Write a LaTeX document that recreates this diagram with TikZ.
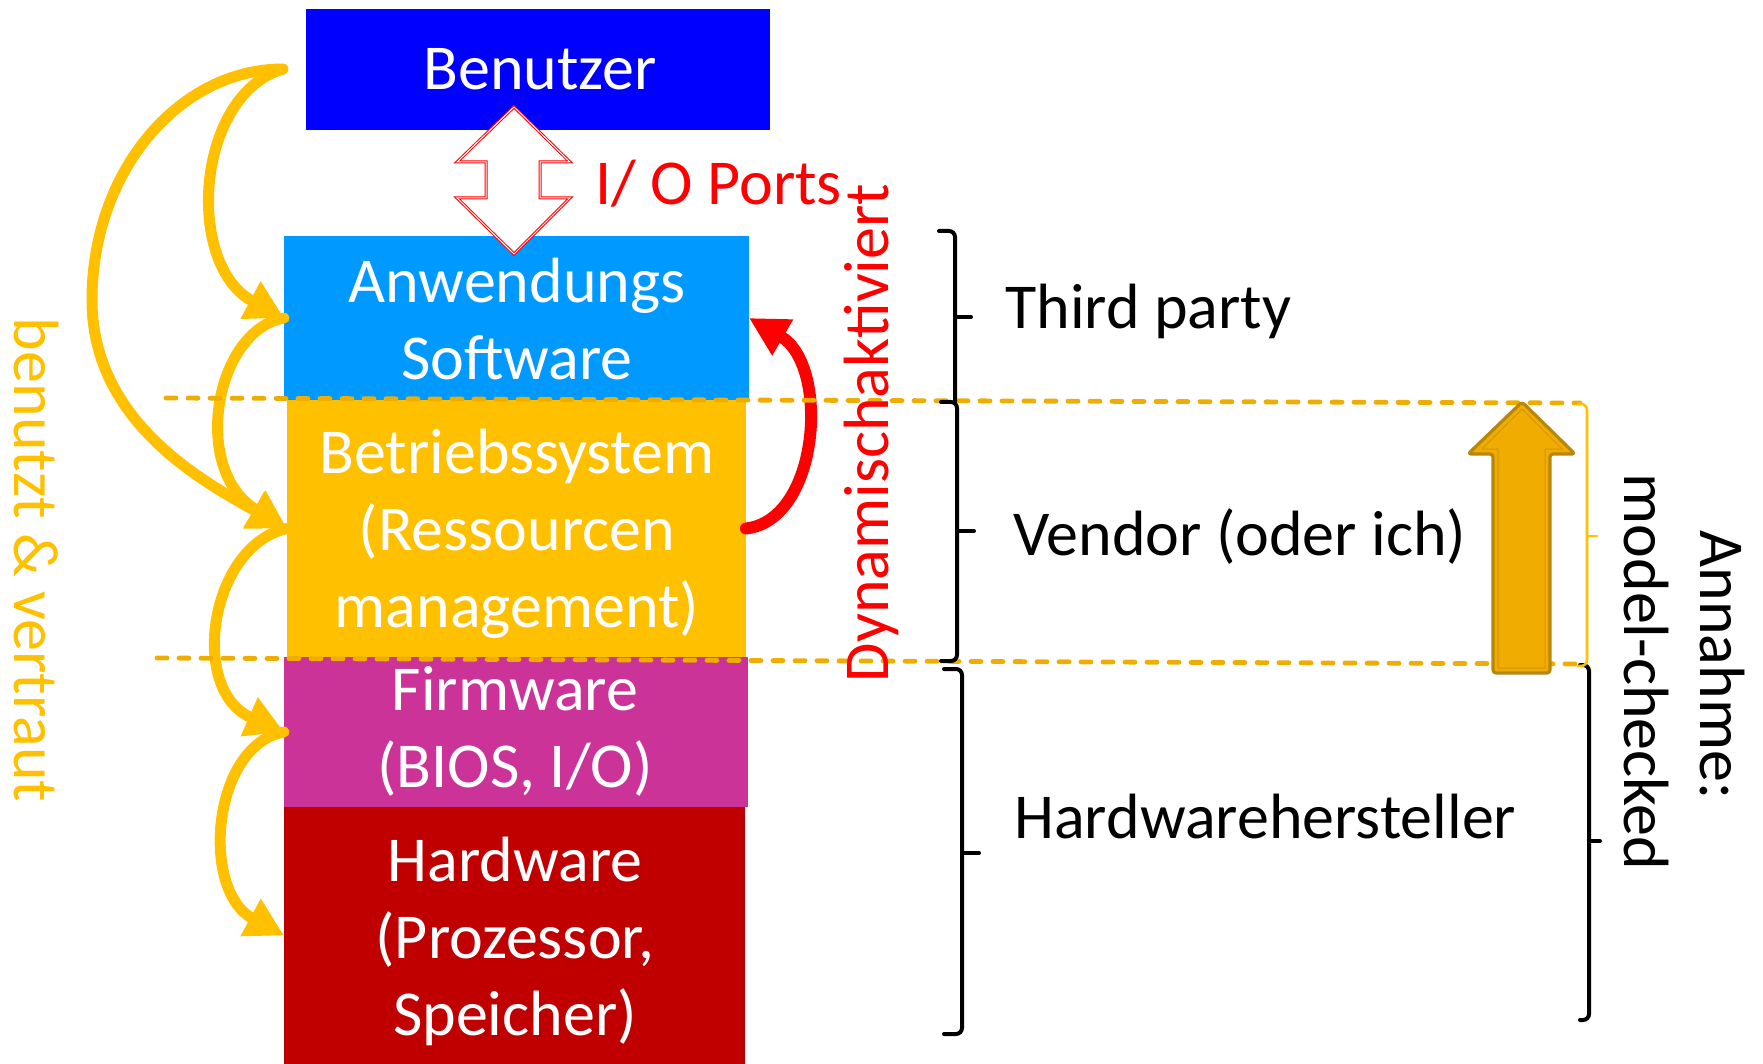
\documentclass[tikz,border=0pt]{standalone}
\usepackage{fontspec}
\setmainfont{Carlito}
\usetikzlibrary{arrows.meta}
\definecolor{benblue}{HTML}{0000FF}
\definecolor{anwblue}{HTML}{0099FF}
\definecolor{osyellow}{HTML}{FFC000}
\definecolor{fwpink}{HTML}{CC3399}
\definecolor{hwred}{HTML}{C00000}
\definecolor{dashcol}{HTML}{EEAD00}
\definecolor{upfill}{HTML}{F0AC00}
\definecolor{upedge}{HTML}{B8860B}
\definecolor{upinner}{HTML}{D09800}
\begin{document}
\begin{tikzpicture}[x=0.5pt,y=-0.5pt,
  layerbox/.style={rectangle,inner sep=0pt,outer sep=0pt,draw=none},
  boxtext/.style={text=white,inner sep=0pt,align=center,font=\fontsize{32pt}{38.5pt}\selectfont},
  lbl/.style={inner sep=0pt,font=\fontsize{32pt}{38.5pt}\selectfont},
  uses/.style={draw=osyellow,line width=5.5pt,line cap=round,-{Triangle[length=19pt,width=20pt]}},
  boundary/.style={draw=dashcol,line width=2.4pt,line cap=round,dash pattern=on 5pt off 6pt},
  brk/.style={line width=2pt,rounded corners=3pt,line cap=round}]
\useasboundingbox (0,0) rectangle (1763,1064);

% layer stack
\node[layerbox,fill=benblue,minimum width=232pt,minimum height=60.5pt] (ben) at (538,69.5) {};
\node[layerbox,fill=anwblue,minimum width=232.5pt,minimum height=82pt] (anw) at (516.5,318) {};
\node[layerbox,fill=osyellow,minimum width=229.5pt,minimum height=128.5pt] (bet) at (516.5,528.5) {};
\node[layerbox,fill=fwpink,minimum width=232pt,minimum height=75pt] (fw) at (516,732) {};
\node[layerbox,fill=hwred,minimum width=230.5pt,minimum height=128.5pt] (hw) at (514.5,935.5) {};

% I/O double arrow between user and application
\filldraw[fill=white,draw=red,double=white,line width=0.5pt,double distance=0.5pt]
  (514,107) -- (570,162) -- (540,162) -- (540,198) -- (570,198) -- (514,254)
  -- (457,198) -- (486,198) -- (486,162) -- (457,162) -- cycle;

% "uses & trusts" arrows
\coordinate (src) at (283,69);
\draw[uses] (src) .. controls (195,95) and (185,265) .. (anw.west);
\draw[uses] (src) .. controls (180,69) and (92,170) .. (92,300)
  .. controls (92,420) and (200,480) .. (bet.west);
\draw[uses] (anw.west) .. controls (215,330) and (190,470) .. (bet.west);
\draw[uses] (bet.west) .. controls (210,545) and (188,690) .. (fw.west);
\draw[uses] (fw.west) .. controls (212,745) and (200,890) .. (hw.west);

% dynamic activation
\draw[draw=red,line width=6pt,line cap=round,-{Triangle[length=19.5pt,width=19.5pt]}]
  (bet.east) .. controls (820,520) and (830,365) .. (anw.east);

% trust boundaries
\draw[boundary] (166,398) -- (1580,403);
\draw[boundary] (157,658) -- (1580,664);

% model-checked arrow
\filldraw[fill=upfill,draw=upedge,line width=1.6pt,line join=round,rounded corners=1.5pt]
  (1522,402) -- (1575,454) -- (1550,454) -- (1550,673) -- (1493,673) -- (1493,454)
  -- (1468,454) -- cycle;
\draw[draw=upinner,line width=0.5pt,line join=round]
  (1522,409) -- (1562,449) -- (1545,449) -- (1545,668) -- (1498,668) -- (1498,449)
  -- (1482,449) -- cycle;

% brackets
\draw[brk] (939,231) -| (955,401);
\draw[brk] (955,317) -- (971,317);
\draw[brk] (941,402) -| (957,661) -- (941,661);
\draw[brk] (957,531) -- (974,531);
\draw[brk] (944,669) -| (962,1034) -- (944,1034);
\draw[brk] (962,853) -- (979,853);
\draw[brk] (1580,665) -| (1589,1020) -- (1580,1020);
\draw[brk] (1589,841) -- (1600,841);
\draw[brk,draw=osyellow,line width=1.3pt] (1578,404) -| (1587,666) -- (1578,666);
\draw[brk,draw=osyellow,line width=1.3pt] (1587,536) -- (1597,536);

% texts in the layers
\node[boxtext] (tben) at (540,74.6) {\strut Benutzer};
\node[boxtext] (tanw) at (517,326) {\strut Anwendungs\\\strut Software};
\node[boxtext] (tbet) at (517,534.6) {\strut Betriebssystem\\\strut (Ressourcen\\\strut management)};
\node[boxtext] (tfw) at (515,734) {\strut Firmware\\\strut (BIOS, I/O)};
\node[boxtext] (thw) at (515,942.6) {\strut Hardware\\\strut (Prozessor,\\\strut Speicher)};

% side labels
\node[lbl,text=red,anchor=base west] (io) at (595,205) {I/ O Ports};
\node[lbl,text=red,rotate=90,anchor=base] (dyn) at (888,433) {Dynamischaktiviert};
\node[lbl,text=osyellow,rotate=-90,anchor=base] (trust) at (15,560) {benutzt \& vertraut};
\node[lbl,anchor=base west] (third) at (1005,329) {Third party};
\node[lbl,anchor=base west] (vendor) at (1013,555) {Vendor (oder ich)};
\node[lbl,anchor=base west] (hwh) at (1014,838) {Hardwarehersteller};
\node[lbl,rotate=-90,anchor=base] (ann) at (1700,665) {Annahme:};
\node[lbl,rotate=-90,anchor=base] (mc) at (1624,672) {model-checked};
\end{tikzpicture}
\end{document}
